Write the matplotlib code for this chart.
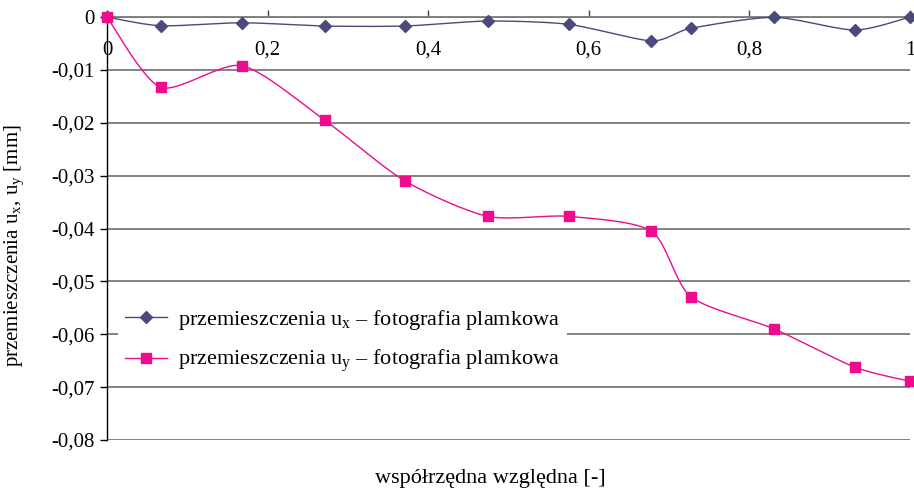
import numpy as np
import matplotlib
matplotlib.use("Agg")
import matplotlib.pyplot as plt
from matplotlib.lines import Line2D

plt.rcParams['font.family'] = ['Liberation Serif', 'DejaVu Serif']
plt.rcParams['mathtext.fontset'] = 'custom'
plt.rcParams['mathtext.rm'] = 'Liberation Serif'

# relative coordinate of the measurement points
x_pos = [0.0, 0.067, 0.168, 0.271, 0.371, 0.474, 0.575, 0.678, 0.727, 0.831, 0.931, 1.0]
# displacements [mm]
ux = [0.0, -0.00165, -0.00108, -0.0017, -0.0017, -0.00076, -0.00138, -0.0045,
      -0.00214, -0.00006, -0.00246, 0.0]
uy = [0.0, -0.0133, -0.0092, -0.0195, -0.0310, -0.0377, -0.0377, -0.0405,
      -0.0529, -0.0590, -0.0662, -0.0689]

y_ticks = [0, -0.01, -0.02, -0.03, -0.04, -0.05, -0.06, -0.07, -0.08]
x_ticks = [0, 0.2, 0.4, 0.6, 0.8, 1.0]

NAVY = '#4a4a7c'
PINK = '#ec0c8c'
GRID = '#7a7a7a'


def smooth_curve(xs, ys, n=30, k=8.0):
    """Cubic Bezier smoothing through all points."""
    p = np.column_stack([xs, ys]).astype(float)
    sx = 1.0 / (max(xs) - min(xs))
    sy = 1.0 / 0.08 * (423.0 / 802.0)
    q = p * [sx, sy]
    pts = []
    for i in range(len(q) - 1):
        p0 = q[i - 1] if i > 0 else q[i]
        p1 = q[i]
        p2 = q[i + 1]
        p3 = q[i + 2] if i + 2 < len(q) else q[i + 1]
        c1 = p1 + (p2 - p0) / k
        c2 = p2 - (p3 - p1) / k
        t = np.linspace(0, 1, n, endpoint=(i == len(q) - 2))[:, None]
        seg = ((1 - t) ** 3) * p1 + 3 * ((1 - t) ** 2) * t * c1 \
            + 3 * (1 - t) * t ** 2 * c2 + t ** 3 * p2
        pts.append(seg)
    pts = np.vstack(pts) / [sx, sy]
    return pts[:, 0], pts[:, 1]


def tick_fmt(v):
    if v == 0:
        return '0'
    s = ('%.2f' % v) if v < 0 else ('%g' % v)
    return s.replace('.', ',')


fig = plt.figure(figsize=(9.14, 4.92), dpi=100)
ax = fig.add_axes([0.117, 0.1057, 0.8786, 0.8597])

ax.set_xlim(0, 1)
ax.set_ylim(-0.08, 0)

for yv in y_ticks:
    ax.axhline(yv, color=GRID, lw=1.3, zorder=1)

sx_, sy_ = smooth_curve(x_pos, ux)
ax.plot(sx_, sy_, color=NAVY, lw=1.0, zorder=3, clip_on=False)
ax.plot(x_pos, ux, ls='none', marker='D', ms=6.5, color=NAVY, zorder=4, clip_on=False)

sx2, sy2 = smooth_curve(x_pos, uy)
ax.plot(sx2, sy2, color=PINK, lw=1.0, zorder=3, clip_on=False)
ax.plot(x_pos, uy, ls='none', marker='s', ms=7, color=PINK, zorder=5, clip_on=False)

for s in ['top', 'right']:
    ax.spines[s].set_visible(False)
ax.spines['bottom'].set_position(('data', 0))
ax.spines['bottom'].set_color(GRID)
ax.spines['bottom'].set_linewidth(1.3)
ax.spines['left'].set_color('black')
ax.spines['left'].set_linewidth(1.0)

ax.set_xticks(x_ticks)
ax.set_xticklabels([tick_fmt(v) for v in x_ticks], fontsize=15)
ax.tick_params(axis='x', direction='in', length=5, width=1, color='#444444', pad=17)
ax.set_yticks(y_ticks)
ax.set_yticklabels([tick_fmt(v) for v in y_ticks], fontsize=15)
ax.tick_params(axis='y', direction='out', length=5, width=1, pad=4)

fig.text(0.536, 0.028, 'współrzędna względna [-]', ha='center', va='center', fontsize=16)
fig.text(0.016, 0.5, 'przemieszczenia u$_\\mathregular{x}$, u$_\\mathregular{y}$ [mm]',
         ha='center', va='center', rotation=90, fontsize=15)

handles = [
    Line2D([], [], color=NAVY, lw=1.0, marker='D', ms=6.5),
    Line2D([], [], color=PINK, lw=1.0, marker='s', ms=7),
]
labels = [
    'przemieszczenia u$_\\mathregular{x}$ – fotografia plamkowa',
    'przemieszczenia u$_\\mathregular{y}$ – fotografia plamkowa',
]
leg = ax.legend(handles, labels, loc='upper left', bbox_to_anchor=(0.0, 0.355),
                frameon=True, facecolor='white', edgecolor='none', framealpha=1,
                fancybox=False, fontsize=16, handlelength=1.9, handletextpad=0.5,
                labelspacing=0.75, borderpad=0.3)
leg.set_zorder(6)

fig.savefig('out.png', dpi=100)
